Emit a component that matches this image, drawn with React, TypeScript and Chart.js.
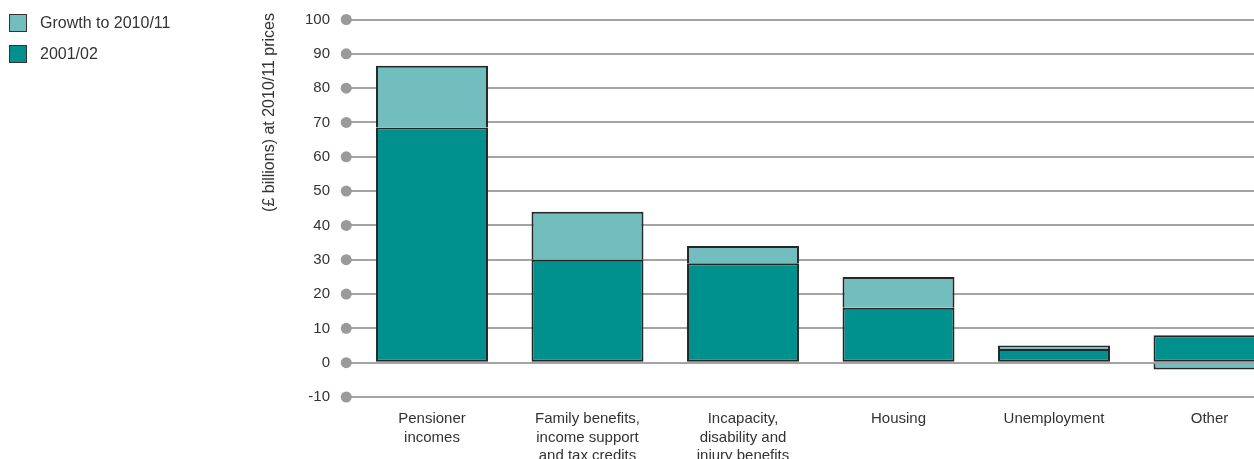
import React, { useEffect, useRef } from "react";
import { Chart, registerables } from "chart.js";

Chart.register(...registerables);

const categories: (string | string[])[] = [
  ["Pensioner", "incomes"],
  ["Family benefits,", "income support", "and tax credits"],
  ["Incapacity,", "disability and", "injury benefits"],
  "Housing",
  "Unemployment",
  "Other",
];
const base200102 = [68.5, 30, 29, 16, 4, 8];
const growthTo201011 = [18, 14, 5, 9, 1, -2];
const yTicksMin = -10;
const yTicksMax = 100;
const yTickStep = 10;
const yTitle = "(£ billions) at 2010/11 prices";

const DARK = "#00918e";
const LIGHT = "#72bdbe";
const GRID = "#a3a3a3";
const DOT = "#999a9c";
const TEXT = "#333333";
const EDGE = "#262626";
const FONT = "'Liberation Sans', Arial, Helvetica, sans-serif";

const dotPlugin = {
  id: "gridDots",
  afterDraw(chart: any) {
    const y = chart.scales.y;
    const ctx = chart.ctx;
    const x = chart.chartArea.left - 8;
    ctx.save();
    ctx.fillStyle = DOT;
    y.ticks.forEach((t: any) => {
      const py = y.getPixelForValue(t.value);
      ctx.beginPath();
      ctx.arc(x, py, 5.5, 0, Math.PI * 2);
      ctx.fill();
    });
    // y-axis title, anchored at top
    ctx.translate(270, 13);
    ctx.rotate(-Math.PI / 2);
    ctx.fillStyle = TEXT;
    ctx.font = `16px ${FONT}`;
    ctx.textAlign = "right";
    ctx.textBaseline = "middle";
    ctx.fillText(yTitle, 0, 0);
    ctx.restore();
  },
};

export default function App() {
  const ref = useRef<HTMLCanvasElement | null>(null);
  useEffect(() => {
    if (!ref.current) return;
    const chart = new Chart(ref.current, {
      type: "bar",
      data: {
        labels: categories,
        datasets: [
          {
            label: "2001/02",
            data: base200102,
            backgroundColor: DARK,
            borderColor: EDGE,
            borderWidth: 2,
            borderSkipped: false,
          },
          {
            label: "Growth to 2010/11",
            data: growthTo201011,
            backgroundColor: LIGHT,
            borderColor: EDGE,
            borderWidth: 2,
            borderSkipped: "start",
          },
        ],
      },
      options: {
        animation: false,
        responsive: false,
        devicePixelRatio: 1,
        layout: { padding: { left: 259, right: 12.75, top: 19.5, bottom: 0 } },
        datasets: { bar: { barPercentage: 0.72, categoryPercentage: 1 } },
        plugins: {
          legend: { display: false },
          tooltip: { enabled: false },
        },
        scales: {
          x: {
            stacked: true,
            grid: { display: false, drawTicks: false },
            border: { display: false },
            ticks: {
              autoSkip: false,
              maxRotation: 0,
              minRotation: 0,
              padding: 13,
              color: TEXT,
              font: { family: FONT, size: 15, lineHeight: 1.233 },
            },
            afterFit: (s: any) => {
              s.height = 62;
            },
          },
          y: {
            stacked: true,
            min: yTicksMin,
            max: yTicksMax,
            border: { display: false },
            grid: {
              color: GRID,
              lineWidth: 2,
              drawTicks: true,
              tickLength: 8,
              tickColor: GRID,
            },
            ticks: {
              stepSize: yTickStep,
              padding: 16.25,
              color: TEXT,
              font: { family: FONT, size: 15 },
            },
            afterFit: (s: any) => {
              s.width = 95.25;
              s.paddingTop = 0;
              s.paddingBottom = 0;
            },
          },
        },
      },
      plugins: [dotPlugin],
    } as any);
    return () => chart.destroy();
  }, []);

  const legendItems = [
    { label: "Growth to 2010/11", color: LIGHT, top: 14 },
    { label: "2001/02", color: DARK, top: 45 },
  ];

  return (
    <div
      style={{
        position: "fixed",
        left: 0,
        top: 0,
        width: 1254,
        height: 459,
        overflow: "hidden",
        background: "#fff",
      }}
    >
      <canvas ref={ref} width={1300} height={459} style={{ display: "block", width: 1300, height: 459 }} />
      {legendItems.map((it) => (
        <div key={it.label}>
          <div
            style={{
              position: "absolute",
              left: 9,
              top: it.top,
              width: 16,
              height: 16,
              background: it.color,
              border: "1px solid #333",
            }}
          />
          <div
            style={{
              position: "absolute",
              left: 40,
              top: it.top,
              height: 18,
              lineHeight: "18px",
              fontFamily: FONT,
              fontSize: 16,
              color: TEXT,
              whiteSpace: "nowrap",
            }}
          >
            {it.label}
          </div>
        </div>
      ))}
    </div>
  );
}
